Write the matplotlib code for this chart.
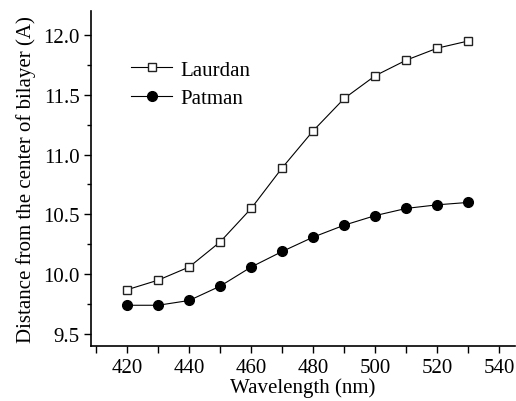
import matplotlib
matplotlib.use("Agg")
import matplotlib.pyplot as plt
from matplotlib.ticker import MultipleLocator

plt.rcParams["font.family"] = ["Liberation Serif", "DejaVu Serif"]

wavelength = [420, 430, 440, 450, 460, 470, 480, 490, 500, 510, 520, 530]
laurdan = [9.87, 9.95, 10.06, 10.27, 10.55, 10.89, 11.20, 11.47, 11.66, 11.79, 11.89, 11.95]
patman = [9.74, 9.74, 9.78, 9.90, 10.06, 10.19, 10.31, 10.41, 10.49, 10.55, 10.58, 10.60]

fig = plt.figure(figsize=(5.16, 4.02), dpi=100)
ax = fig.add_axes([0.176, 0.137, 0.822, 0.833])

ax.plot(wavelength, laurdan, color="black", lw=0.8, marker="s", ms=6,
        mfc="white", mec="#222222", mew=1.0, label="Laurdan")
ax.plot(wavelength, patman, color="black", lw=0.8, marker="o", ms=7,
        mfc="black", mec="black", label="Patman")

ax.set_xlim(408.3, 545)
ax.set_ylim(9.4, 12.2)
ax.xaxis.set_major_locator(MultipleLocator(20))
ax.xaxis.set_minor_locator(MultipleLocator(10))
ax.yaxis.set_major_locator(MultipleLocator(0.5))
ax.yaxis.set_minor_locator(MultipleLocator(0.25))
ax.yaxis.set_major_formatter(matplotlib.ticker.FormatStrFormatter("%.1f"))

for side in ("top", "right"):
    ax.spines[side].set_visible(False)
for side in ("left", "bottom"):
    ax.spines[side].set_linewidth(1.2)

ax.tick_params(axis="both", which="both", direction="out", width=1.0, labelsize=15)
ax.tick_params(axis="x", which="both", length=5, pad=4)
ax.tick_params(axis="y", which="major", length=5, pad=3)
ax.tick_params(axis="y", which="minor", length=3)

ax.set_xlabel("Wavelength (nm)", fontsize=15, labelpad=0)
ax.set_ylabel("Distance from the center of bilayer (A)", fontsize=15, labelpad=5)

ax.legend(loc="upper left", bbox_to_anchor=(0.05, 0.91), frameon=False,
          fontsize=15, handlelength=2.0, handletextpad=0.4, labelspacing=0.45)

fig.savefig("out.png", dpi=100)
